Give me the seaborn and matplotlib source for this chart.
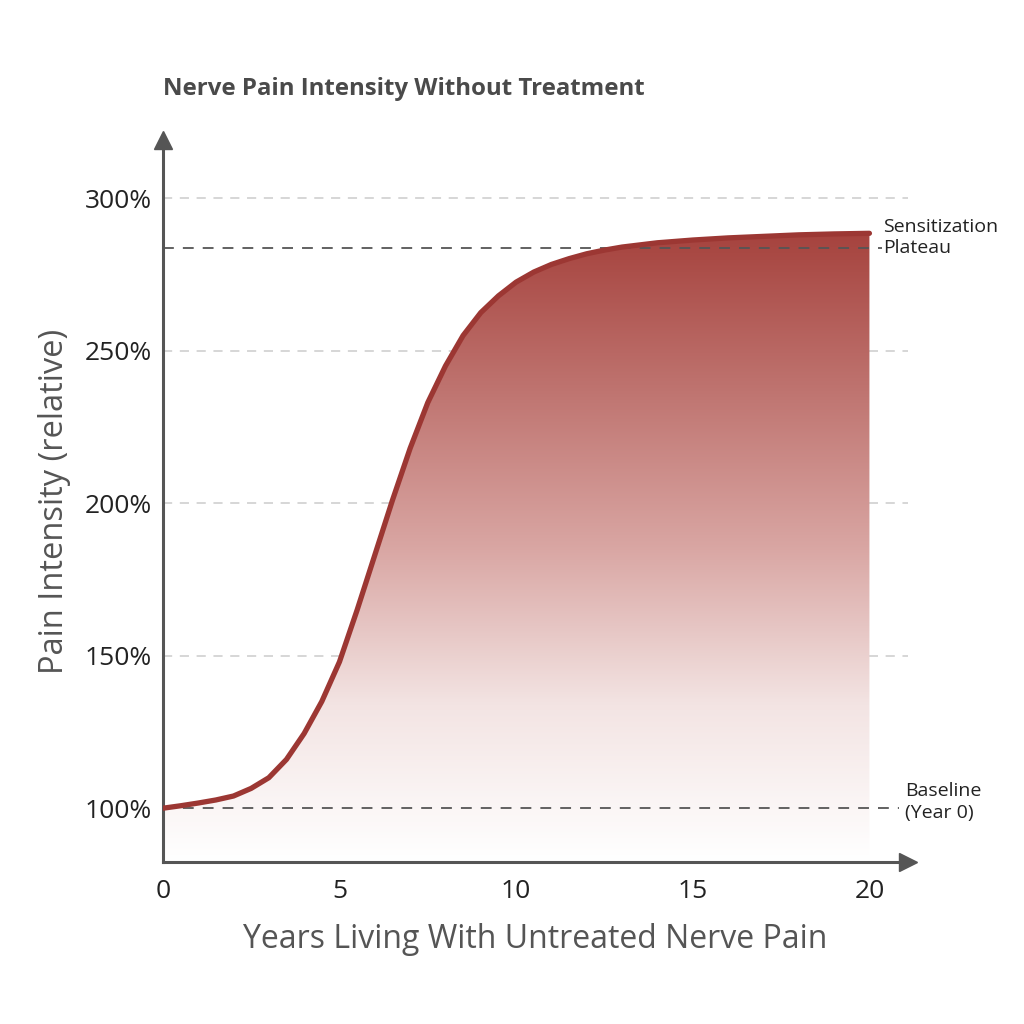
import numpy as np
import pandas as pd
import matplotlib
matplotlib.use("Agg")
import matplotlib.pyplot as plt
import seaborn as sns
from matplotlib.colors import LinearSegmentedColormap

years = [0, 0.5, 1, 1.5, 2, 2.5, 3, 3.5, 4, 4.5, 5, 5.5, 6, 6.5, 7, 7.5, 8, 8.5,
         9, 9.5, 10, 10.5, 11, 11.5, 12, 12.5, 13, 14, 15, 16, 17, 18, 19, 20]
pain = [100, 100.8, 101.7, 102.7, 104, 106.5, 110, 116, 124.5, 135, 148, 165, 183,
        201, 218, 233, 245, 255, 262.5, 268, 272.5, 275.8, 278.3, 280.2, 281.8, 283,
        284, 285.4, 286.3, 287, 287.5, 288, 288.3, 288.5]
grid_levels = [150, 200, 250, 300]
plateau_level = 283.6
baseline_level = 100
x_ticks = [0, 5, 10, 15, 20]
y_ticks = [100, 150, 200, 250, 300]

df = pd.DataFrame({"year": years, "pain": pain})

sns.set_theme(style="white")
plt.rcParams["font.family"] = ["Open Sans", "DejaVu Sans"]

fig = plt.figure(figsize=(10.24, 10.24), dpi=100)
ax = fig.add_axes([0.159, 0.158, 0.728, 0.705])
ymin, ymax = 82.3, 319
ax.set_xlim(0, 21.1)
ax.set_ylim(ymin, ymax)

# grid lines
for g in grid_levels:
    ax.axhline(g, color="#cccccc", lw=1.1, ls=(0, (6, 5)), zorder=1)

# gradient fill under the curve
fill = ax.fill_between(df["year"], df["pain"], ymin, color="none", lw=0, zorder=2)
cmap = LinearSegmentedColormap.from_list("g", ["#ffffff", "#f3e4e3", "#d9a6a3", "#bf7470", "#a6433e"])
grad = np.linspace(0, 1, 256).reshape(-1, 1)
img = ax.imshow(grad, cmap=cmap, origin="lower", aspect="auto",
                extent=[0, 20, ymin, max(pain)], zorder=2)
img.set_clip_path(fill.get_paths()[0], transform=ax.transData)

# reference lines
ax.plot([0, 20.35], [plateau_level] * 2, color="#555555", lw=1.3, ls=(0, (6, 5)), zorder=3)
ax.plot([0, 20.85], [baseline_level] * 2, color="#555555", lw=1.3, ls=(0, (6, 5)), zorder=3)

sns.lineplot(data=df, x="year", y="pain", ax=ax, color="#9c3733", lw=3.8, zorder=4,
             solid_capstyle="round", solid_joinstyle="round")

ax.text(20.4, plateau_level + 3.5, "Sensitization\nPlateau", fontsize=14, color="#222222",
        va="center", ha="left", linespacing=1.25)
ax.text(21.0, baseline_level + 2, "Baseline\n(Year 0)", fontsize=14, color="#222222",
        va="center", ha="left", linespacing=1.25)

# axes with arrows
for s in ["top", "right"]:
    ax.spines[s].set_visible(False)
for s in ["left", "bottom"]:
    ax.spines[s].set_color("#555555")
    ax.spines[s].set_linewidth(2.2)
ax.plot(0, 1, marker="^", color="#555555", ms=13, transform=ax.transAxes, clip_on=False)
ax.plot(1, 0, marker=">", color="#555555", ms=13, transform=ax.transAxes, clip_on=False)

ax.set_xticks(x_ticks)
ax.set_yticks(y_ticks)
ax.set_yticklabels([f"{v}%" for v in y_ticks])
ax.tick_params(axis="both", length=0, labelsize=19, labelcolor="#222222", pad=8)
ax.tick_params(axis="x", pad=12)
ax.set_xlabel("Years Living With Untreated Nerve Pain", fontsize=23, color="#555555", labelpad=14)
ax.set_ylabel("Pain Intensity (relative)", fontsize=23.5, color="#555555", labelpad=10)
ax.grid(False)

fig.text(0.159, 0.913, "Nerve Pain Intensity Without Treatment", fontsize=17.3,
         fontweight="bold", color="#4a4a4a", ha="left", va="center")

fig.savefig("out.png", dpi=100, facecolor="white")
